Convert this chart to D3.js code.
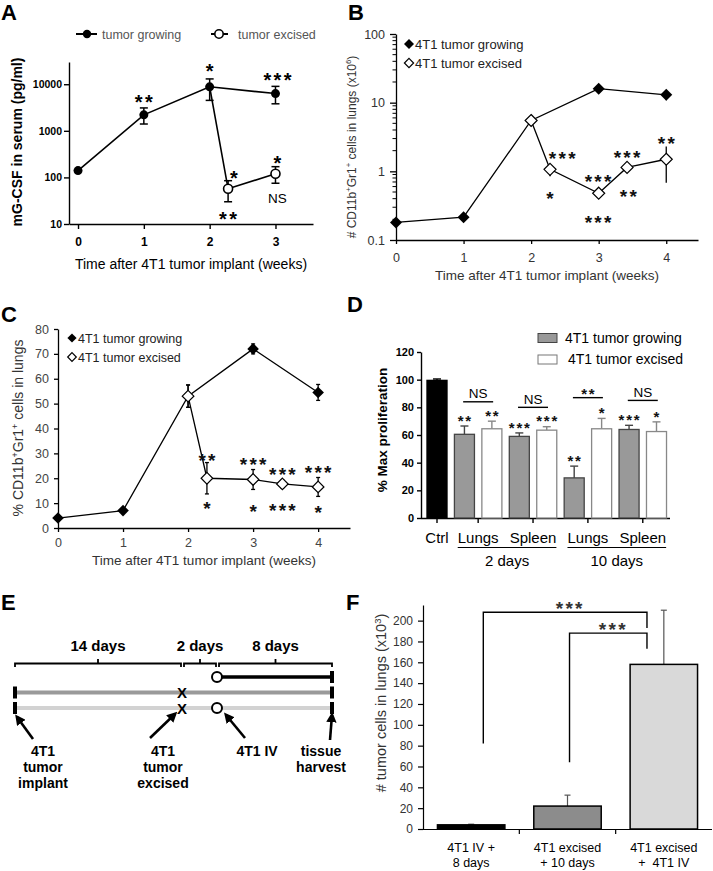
<!DOCTYPE html>
<html>
<head>
<meta charset="utf-8">
<style>
  body { margin: 0; background: #fff; }
  svg { display: block; }
</style>
</head>
<body>
<div id="fig"></div>
<script src="https://cdn.jsdelivr.net/npm/d3@7/dist/d3.min.js"></script>
<script>
// ---------------- data ----------------
// A: serum mG-CSF (pg/ml)
const aXTicks = [0, 1, 2, 3];
const aYTicks = [10, 100, 1000, 10000];
const aGrowWeek = [0, 1, 2, 3];
const aGrowMean = [140, 2200, 8800, 6300];
const aGrowLo = [140, 1400, 4500, 3800];
const aGrowHi = [140, 3100, 13000, 9000];
const aExcWeek = [2, 2.28, 3];
const aExcMean = [8800, 57, 120];
const aExcLo = [8800, 30, 75];
const aExcHi = [8800, 85, 170];
const aNotes = [
  {week: 1, val: 5300, text: "**"},
  {week: 2, val: 24000, text: "*"},
  {week: 3.03, val: 15600, text: "***"},
  {week: 2.37, val: 124, text: "*"},
  {week: 2.28, val: 16.4, text: "**"},
  {week: 3.03, val: 260, text: "*"},
  {week: 3.03, val: 36, text: "NS"}
];

// B: # CD11b+Gr1+ cells in lungs (x10^6)
const bXTicks = [0, 1, 2, 3, 4];
const bYTicks = [0.1, 1, 10, 100];
const bGrowWeek = [0, 1, 2, 3, 4];
const bGrowMean = [0.18, 0.215, 5.5, 16, 13];
const bGrowLo = [0.18, 0.19, 5.5, 15, 10.8];
const bGrowHi = [0.18, 0.24, 5.5, 17, 15];
const bExcWeek = [2, 2.28, 3, 3.42, 4];
const bExcMean = [5.5, 1.07, 0.48, 1.14, 1.5];
const bExcLo = [5.5, 0.85, 0.45, 0.95, 0.68];
const bExcHi = [5.5, 1.25, 0.51, 1.35, 2.3];
const bNotes = [
  {week: 2.46, val: 1.79, text: "***"},
  {week: 2.28, val: 0.47, text: "*"},
  {week: 2.99, val: 0.83, text: "***"},
  {week: 2.99, val: 0.21, text: "***"},
  {week: 3.42, val: 1.85, text: "***"},
  {week: 3.44, val: 0.5, text: "**"},
  {week: 4, val: 2.96, text: "**"}
];

// C: % CD11b+Gr1+ cells in lungs
const cXTicks = [0, 1, 2, 3, 4];
const cYTicks = [0, 10, 20, 30, 40, 50, 60, 70, 80];
const cGrowWeek = [0, 1, 2, 3, 4];
const cGrowMean = [4, 7, 53, 72, 54.5];
const cGrowErr = [0.5, 0.8, 4.5, 2, 3.2];
const cExcWeek = [2, 2.29, 3, 3.45, 4];
const cExcMean = [53, 20, 19.5, 17.7, 16.5];
const cExcErr = [4.5, 6.3, 4, 1.5, 3.8];
const cNotes = [
  {week: 2.29, val: 28.9, text: "**"},
  {week: 2.29, val: 9.6, text: "*"},
  {week: 3, val: 27.3, text: "***"},
  {week: 3, val: 8.4, text: "*"},
  {week: 3.45, val: 23.3, text: "***"},
  {week: 3.45, val: 8.8, text: "***"},
  {week: 4, val: 24.1, text: "***"},
  {week: 4, val: 8.0, text: "*"}
];

// D: % max proliferation
const dIds = ["ctrl", "l2g", "l2e", "s2g", "s2e", "l10g", "l10e", "s10g", "s10e"];
const dKind = ["ctrl", "grow", "exc", "grow", "exc", "grow", "exc", "grow", "exc"];
const dMean = [99.5, 60.5, 64.5, 59, 63.5, 29, 64.5, 64, 62.5];
const dErr = [1, 6, 5.5, 2.5, 2.5, 8.5, 7.5, 3, 7];
const dStars = ["", "**", "**", "***", "***", "**", "*", "***", "*"];
const dYTicks = [0, 20, 40, 60, 80, 100, 120];
const dPairs = [["l2g", "l2e"], ["s2g", "s2e"], ["l10g", "l10e"], ["s10g", "s10e"]];
const dPairNames = ["Lungs", "Spleen", "Lungs", "Spleen"];
const dPairSig = ["NS", "NS", "**", "NS"];
const dPairLine = [84, 80, 87, 85];
const dPeriods = ["2 days", "10 days"];

// E: schedule
const eDays = [0, 14, 16, 24];
const eSpans = ["14 days", "2 days", "8 days"];
const eRows = ["iv", "growing", "excised"];
const eLabels = [["4T1", "tumor", "implant"], ["4T1", "tumor", "excised"], ["4T1 IV"], ["tissue", "harvest"]];

// F: # tumor cells in lungs (x10^3)
const fLine1 = ["4T1 IV +", "4T1 excised", "4T1 excised"];
const fLine2 = ["8 days", "+ 10 days", "+  4T1 IV"];
const fMean = [4, 22, 158];
const fErr = [0.6, 10.5, 52];
const fYTicks = [0, 20, 40, 60, 80, 100, 120, 140, 160, 180, 200];
const fSig = [
  {from: 0, to: 2, top: 208, fromFoot: 82, toFoot: 193, text: "***"},
  {from: 1, to: 2, top: 188, fromFoot: 64, toFoot: 173, text: "***"}
];

// ---------------- helpers ----------------
const FONT = '"Liberation Sans", Arial, Helvetica, sans-serif';
const svg = d3.select("#fig").append("svg")
  .attr("width", 713).attr("height", 871)
  .attr("font-family", FONT);

svg.append("defs").append("marker")
  .attr("id", "arrow").attr("viewBox", "0 0 10 10")
  .attr("refX", 7).attr("refY", 5)
  .attr("markerWidth", 4).attr("markerHeight", 4)
  .attr("orient", "auto")
  .append("path").attr("d", "M0,0L10,5L0,10Z").attr("fill", "#000");

function addText(g, x, y, s, size, opt) {
  opt = opt || {};
  return g.append("text")
    .attr("x", x).attr("y", y)
    .attr("font-size", size)
    .attr("font-weight", opt.bold ? "bold" : "normal")
    .attr("fill", opt.fill || "#000")
    .attr("text-anchor", opt.anchor || "start")
    .style("white-space", "pre")
    .text(s);
}

// asterisks / NS centred on (x, yc)
function addNote(g, x, yc, s, size, fill) {
  if (s === "NS") return addText(g, x, yc + 4.7, s, 13.5, {anchor: "middle", fill: fill});
  const ls = size * 0.12;
  return g.append("text")
    .attr("x", x + ls / 2).attr("y", yc + size * 0.58)
    .attr("font-size", size).attr("letter-spacing", ls)
    .attr("font-weight", "bold")
    .attr("text-anchor", "middle").attr("fill", fill || "#000")
    .text(s);
}

// parts: plain strings, or [string] for a superscript
function richText(t, parts, size) {
  let raised = false;
  parts.forEach(p => {
    const sup = Array.isArray(p);
    const ts = t.append("tspan").text(sup ? p[0] : p);
    if (sup) {
      ts.attr("font-size", size * 0.65);
      if (!raised) ts.attr("dy", -size * 0.38);
      raised = true;
    } else if (raised) {
      ts.attr("dy", size * 0.38);
      raised = false;
    }
  });
  return t;
}

function yTitle(g, bx, cy, parts, size, opt) {
  opt = opt || {};
  const t = g.append("text")
    .attr("transform", `translate(${bx},${cy}) rotate(-90)`)
    .attr("text-anchor", "middle")
    .attr("font-size", size)
    .attr("font-weight", opt.bold ? "bold" : "normal")
    .attr("fill", opt.fill || "#000");
  return richText(t, parts, size);
}

function styleAxis(ax, size, opt) {
  opt = opt || {};
  ax.attr("font-family", FONT).attr("font-size", size);
  ax.selectAll("text").attr("fill", opt.fill || "#000").attr("font-weight", opt.bold ? "bold" : "normal");
  ax.selectAll("path, line").attr("stroke", "#000").attr("stroke-width", opt.sw || 1.2);
}

function errBar(g, x, y1, y2, cap, sw, color) {
  if (Math.abs(y1 - y2) < 0.5) return;
  const c = color || "#000";
  g.append("line").attr("x1", x).attr("x2", x).attr("y1", y1).attr("y2", y2)
    .attr("stroke", c).attr("stroke-width", sw);
  if (cap > 0) {
    [y1, y2].forEach(y => g.append("line")
      .attr("x1", x - cap / 2).attr("x2", x + cap / 2).attr("y1", y).attr("y2", y)
      .attr("stroke", c).attr("stroke-width", sw));
  }
}

function diamond(r) { return `M0,${-r}L${r},0L0,${r}L${-r},0Z`; }

function panelLetter(x, y, s) { addText(svg, x, y, s, 22, {bold: true}); }

// ---------------- panel A ----------------
const gA = svg.append("g");
const xA = d3.scaleLinear().domain([-0.137, 3.57]).range([69, 313]);
const yA = d3.scaleLog().domain([10, 30000]).range([224, 62]);

styleAxis(gA.append("g").attr("transform", `translate(0,${yA(10)})`)
  .call(d3.axisBottom(xA).tickValues(aXTicks).tickFormat(d3.format("d"))
    .tickSize(5).tickPadding(8).tickSizeOuter(0)), 12, {bold: true, sw: 1.4});
styleAxis(gA.append("g").attr("transform", `translate(${xA.range()[0]},0)`)
  .call(d3.axisLeft(yA).tickValues(aYTicks).tickFormat(d3.format("d"))
    .tickSize(5).tickPadding(2).tickSizeOuter(0)), 10.5, {bold: true, sw: 1.4});

const lineA = d3.line().x(d => xA(d[0])).y(d => yA(d[1]));
gA.append("path").attr("d", lineA(d3.zip(aGrowWeek, aGrowMean)))
  .attr("fill", "none").attr("stroke", "#000").attr("stroke-width", 1.6);
gA.append("path").attr("d", lineA(d3.zip(aExcWeek, aExcMean)))
  .attr("fill", "none").attr("stroke", "#000").attr("stroke-width", 1.6);
aGrowWeek.forEach((w, i) => errBar(gA, xA(w), yA(aGrowLo[i]), yA(aGrowHi[i]), 8, 1.5));
aExcWeek.forEach((w, i) => { if (i > 0) errBar(gA, xA(w), yA(aExcLo[i]), yA(aExcHi[i]), 8, 1.5); });
gA.selectAll(".ga").data(d3.zip(aGrowWeek, aGrowMean)).join("circle")
  .attr("cx", d => xA(d[0])).attr("cy", d => yA(d[1])).attr("r", 4.5).attr("fill", "#000");
gA.selectAll(".ea").data(d3.zip(aExcWeek, aExcMean).slice(1)).join("circle")
  .attr("cx", d => xA(d[0])).attr("cy", d => yA(d[1])).attr("r", 4.5)
  .attr("fill", "#fff").attr("stroke", "#000").attr("stroke-width", 1.6);
aNotes.forEach(n => addNote(gA, xA(n.week), yA(n.val), n.text, 20));

// legend A
gA.append("line").attr("x1", 76).attr("x2", 97).attr("y1", 34).attr("y2", 34).attr("stroke", "#000").attr("stroke-width", 2);
gA.append("circle").attr("cx", 87).attr("cy", 34).attr("r", 4.2).attr("fill", "#000");
addText(gA, 102, 38.5, "tumor growing", 12.5, {fill: "#555"});
gA.append("line").attr("x1", 211).attr("x2", 228).attr("y1", 34).attr("y2", 34).attr("stroke", "#000").attr("stroke-width", 2);
gA.append("circle").attr("cx", 219).attr("cy", 34).attr("r", 4.2).attr("fill", "#fff").attr("stroke", "#000").attr("stroke-width", 1.6);
addText(gA, 238, 38.5, "tumor excised", 12.5, {fill: "#555"});

addText(gA, 191, 269, "Time after 4T1 tumor implant (weeks)", 14, {anchor: "middle"});
yTitle(gA, 22, 142, ["mG-CSF in serum (pg/ml)"], 14, {bold: true});
panelLetter(1, 20, "A");

// ---------------- panel B ----------------
const gB = svg.append("g");
const xB = d3.scaleLinear().domain([0, 4.47]).range([396, 698]);
const yB = d3.scaleLog().domain([0.1, 100]).range([240, 34]);

styleAxis(gB.append("g").attr("transform", `translate(0,${yB(0.1)})`)
  .call(d3.axisBottom(xB).tickValues(bXTicks).tickFormat(d3.format("d"))
    .tickSize(4).tickPadding(9).tickSizeOuter(0)), 12.5, {fill: "#333", sw: 1.3});
styleAxis(gB.append("g").attr("transform", `translate(${xB(0)},0)`)
  .call(d3.axisLeft(yB).tickValues(bYTicks).tickFormat(d => String(d))
    .tickSize(6).tickPadding(5).tickSizeOuter(0)), 12.5, {fill: "#333", sw: 1.3});
// minor log ticks
gB.selectAll(".minor").data(yB.ticks().filter(v => Math.abs(Math.log10(v) - Math.round(Math.log10(v))) > 1e-6))
  .join("line")
  .attr("x1", xB(0) - 3.5).attr("x2", xB(0)).attr("y1", d => yB(d)).attr("y2", d => yB(d))
  .attr("stroke", "#000").attr("stroke-width", 1);

const lineB = d3.line().x(d => xB(d[0])).y(d => yB(d[1]));
gB.append("path").attr("d", lineB(d3.zip(bGrowWeek, bGrowMean)))
  .attr("fill", "none").attr("stroke", "#000").attr("stroke-width", 1.3);
gB.append("path").attr("d", lineB(d3.zip(bExcWeek, bExcMean)))
  .attr("fill", "none").attr("stroke", "#000").attr("stroke-width", 1.3);
bGrowWeek.forEach((w, i) => errBar(gB, xB(w), yB(bGrowLo[i]), yB(bGrowHi[i]), 0, 1.3));
bExcWeek.forEach((w, i) => errBar(gB, xB(w), yB(bExcLo[i]), yB(bExcHi[i]), 0, 1.3));
gB.selectAll(".gb").data(d3.zip(bGrowWeek, bGrowMean)).join("path")
  .attr("transform", d => `translate(${xB(d[0])},${yB(d[1])})`)
  .attr("d", diamond(6)).attr("fill", "#000");
gB.selectAll(".eb").data(d3.zip(bExcWeek, bExcMean)).join("path")
  .attr("transform", d => `translate(${xB(d[0])},${yB(d[1])})`)
  .attr("d", diamond(6)).attr("fill", "#fff").attr("stroke", "#000").attr("stroke-width", 1.2);
bNotes.forEach(n => addNote(gB, xB(n.week), yB(n.val), n.text, 19, "#111"));

// legend B
gB.append("path").attr("transform", "translate(409,44)").attr("d", diamond(5)).attr("fill", "#000");
addText(gB, 415, 48.5, "4T1 tumor growing", 13, {fill: "#222"});
gB.append("path").attr("transform", "translate(409,63)").attr("d", diamond(4.6))
  .attr("fill", "#fff").attr("stroke", "#000").attr("stroke-width", 1.2);
addText(gB, 415, 67.5, "4T1 tumor excised", 13, {fill: "#222"});

addText(gB, 547, 280, "Time after 4T1 tumor implant (weeks)", 13.5, {anchor: "middle", fill: "#333"});
yTitle(gB, 356, 147, ["# CD11b", ["+"], "Gr1", ["+"], " cells in lungs (x10", ["6"], ")"], 12, {fill: "#333"});
panelLetter(348, 20, "B");

// ---------------- panel C ----------------
const gC = svg.append("g");
const xC = d3.scaleLinear().domain([0, 4.49]).range([58, 350]);
const yC = d3.scaleLinear().domain([0, 80]).range([528, 329]);

styleAxis(gC.append("g").attr("transform", `translate(0,${yC(0)})`)
  .call(d3.axisBottom(xC).tickValues(cXTicks).tickFormat(d3.format("d"))
    .tickSize(4).tickPadding(6).tickSizeOuter(0)), 12.5, {fill: "#444", sw: 1.3});
styleAxis(gC.append("g").attr("transform", `translate(${xC(0)},0)`)
  .call(d3.axisLeft(yC).tickValues(cYTicks).tickFormat(d3.format("d"))
    .tickSize(4).tickPadding(5).tickSizeOuter(0)), 12.5, {fill: "#444", sw: 1.3});

const lineC = d3.line().x(d => xC(d[0])).y(d => yC(d[1]));
gC.append("path").attr("d", lineC(d3.zip(cGrowWeek, cGrowMean)))
  .attr("fill", "none").attr("stroke", "#000").attr("stroke-width", 1.3);
gC.append("path").attr("d", lineC(d3.zip(cExcWeek, cExcMean)))
  .attr("fill", "none").attr("stroke", "#000").attr("stroke-width", 1.3);
cGrowWeek.forEach((w, i) => errBar(gC, xC(w), yC(cGrowMean[i] - cGrowErr[i]), yC(cGrowMean[i] + cGrowErr[i]), 4, 1.3));
cExcWeek.forEach((w, i) => errBar(gC, xC(w), yC(cExcMean[i] - cExcErr[i]), yC(cExcMean[i] + cExcErr[i]), 4, 1.3));
gC.selectAll(".gc").data(d3.zip(cGrowWeek, cGrowMean)).join("path")
  .attr("transform", d => `translate(${xC(d[0])},${yC(d[1])})`)
  .attr("d", diamond(5.8)).attr("fill", "#000");
gC.selectAll(".ec").data(d3.zip(cExcWeek, cExcMean)).join("path")
  .attr("transform", d => `translate(${xC(d[0])},${yC(d[1])})`)
  .attr("d", diamond(5.8)).attr("fill", "#fff").attr("stroke", "#000").attr("stroke-width", 1.2);
cNotes.forEach(n => addNote(gC, xC(n.week), yC(n.val), n.text, 19, "#111"));

// legend C
gC.append("path").attr("transform", "translate(72,338)").attr("d", diamond(4.6)).attr("fill", "#000");
addText(gC, 78, 342.5, "4T1 tumor growing", 12.5, {fill: "#222"});
gC.append("path").attr("transform", "translate(72,357)").attr("d", diamond(4.3))
  .attr("fill", "#fff").attr("stroke", "#000").attr("stroke-width", 1.2);
addText(gC, 78, 361.5, "4T1 tumor excised", 12.5, {fill: "#222"});

addText(gC, 204, 565, "Time after 4T1 tumor implant (weeks)", 13.5, {anchor: "middle", fill: "#333"});
yTitle(gC, 23, 428, ["% CD11b", ["+"], "Gr1", ["+"], " cells in lungs"], 14, {fill: "#333"});
panelLetter(1, 322, "C");

// ---------------- panel D ----------------
const gD = svg.append("g");
const yD = d3.scaleLinear().domain([0, 120]).range([518, 352]);
const xD = d3.scalePoint().domain(dIds).range([437, 656.5]);
const bwD = xD.step() * 0.73;

styleAxis(gD.append("g").attr("transform", "translate(421,0)")
  .call(d3.axisLeft(yD).tickValues(dYTicks).tickFormat(d3.format("d"))
    .tickSize(4).tickPadding(3).tickSizeOuter(0)), 11, {bold: true, sw: 1.4});
gD.append("line").attr("x1", 421).attr("x2", 670).attr("y1", yD(0) + 0.5).attr("y2", yD(0) + 0.5)
  .attr("stroke", "#000").attr("stroke-width", 1.4);

const pairCenter = p => (xD(p[0]) + xD(p[1])) / 2;
const dTickX = [xD("ctrl")].concat(dPairs.map(pairCenter));
gD.selectAll(".dtick").data(dTickX).join("line")
  .attr("x1", d => d).attr("x2", d => d).attr("y1", yD(0)).attr("y2", yD(0) + 5)
  .attr("stroke", "#000").attr("stroke-width", 1.4);

const dFill = {ctrl: "#000", grow: "#999", exc: "#fff"};
const dStroke = {ctrl: "#000", grow: "#444", exc: "#888"};
dIds.forEach((id, i) => {
  const k = dKind[i];
  errBar(gD, xD(id), yD(dMean[i]), yD(dMean[i] + dErr[i]), 0, 1.4, dStroke[k]);
  gD.append("line").attr("x1", xD(id) - 4).attr("x2", xD(id) + 4)
    .attr("y1", yD(dMean[i] + dErr[i])).attr("y2", yD(dMean[i] + dErr[i]))
    .attr("stroke", dStroke[k]).attr("stroke-width", 1.4);
  gD.append("rect")
    .attr("x", xD(id) - bwD / 2).attr("width", bwD)
    .attr("y", yD(dMean[i])).attr("height", yD(0) - yD(dMean[i]))
    .attr("fill", dFill[k]).attr("stroke", dStroke[k]).attr("stroke-width", 1.3);
  if (dStars[i]) addNote(gD, xD(id), yD(dMean[i] + dErr[i]) - 9, dStars[i], 15, "#111");
});

dPairs.forEach((p, i) => {
  const c = pairCenter(p);
  const y = yD(dPairLine[i]);
  gD.append("line").attr("x1", c - 15).attr("x2", c + 15).attr("y1", y).attr("y2", y)
    .attr("stroke", "#000").attr("stroke-width", 1.4);
  if (dPairSig[i] === "NS") addText(gD, c, y - 3.5, "NS", 13.5, {anchor: "middle"});
  else addNote(gD, c, y - 7, dPairSig[i], 15, "#111");
});

// category labels
addText(gD, xD("ctrl"), 543, "Ctrl", 15, {anchor: "middle"});
const pairLabels = dPairs.map((p, i) => addText(gD, pairCenter(p), 543, dPairNames[i], 15, {anchor: "middle"}));
dPeriods.forEach((s, j) => {
  const b1 = pairLabels[2 * j].node().getBBox();
  const b2 = pairLabels[2 * j + 1].node().getBBox();
  gD.append("line").attr("x1", b1.x).attr("x2", b2.x + b2.width).attr("y1", 547.5).attr("y2", 547.5)
    .attr("stroke", "#000").attr("stroke-width", 1.2);
  addText(gD, (b1.x + b2.x + b2.width) / 2, 566, s, 15, {anchor: "middle"});
});

// legend D
gD.append("rect").attr("x", 538).attr("y", 333.5).attr("width", 19).attr("height", 9)
  .attr("fill", "#999").attr("stroke", "#444").attr("stroke-width", 1);
addText(gD, 565, 343, "4T1 tumor growing", 14);
gD.append("rect").attr("x", 538).attr("y", 355).attr("width", 19).attr("height", 9)
  .attr("fill", "#fff").attr("stroke", "#777").attr("stroke-width", 1);
addText(gD, 568, 364, "4T1 tumor excised", 14);

yTitle(gD, 387, 430, ["% Max proliferation"], 13.5, {bold: true});
panelLetter(347, 312, "D");

// ---------------- panel E ----------------
const gE = svg.append("g");
const tE = d3.scaleLinear().domain(eDays).range([15, 182, 217, 332]);
const rowE = d3.scalePoint().domain(eRows).range([677, 708]);

// braces + span labels
eSpans.forEach((s, i) => {
  const x0 = tE(eDays[i]) + (i > 0 ? 2 : 0);
  const x1 = tE(eDays[i + 1]) - (i < eSpans.length - 1 ? 1 : 0);
  const m = (x0 + x1) / 2;
  gE.append("path").attr("d", `M${x0},667V663.5H${x1}V667M${m},663.5V659`)
    .attr("fill", "none").attr("stroke", "#000").attr("stroke-width", 1.8);
  addText(gE, m, 651, s, 15, {bold: true, anchor: "middle"});
});

// rows
const yIv = rowE("iv"), yG = rowE("growing"), yX = rowE("excised");
gE.append("line").attr("x1", tE(0)).attr("x2", tE(24)).attr("y1", yG).attr("y2", yG)
  .attr("stroke", "#9a9a9a").attr("stroke-width", 4);
gE.append("line").attr("x1", tE(0)).attr("x2", tE(24)).attr("y1", yX).attr("y2", yX)
  .attr("stroke", "#d2d2d2").attr("stroke-width", 4);
gE.append("line").attr("x1", tE(16)).attr("x2", tE(24)).attr("y1", yIv).attr("y2", yIv)
  .attr("stroke", "#000").attr("stroke-width", 3.5);
[[0, yG], [0, yX], [24, yIv], [24, yG], [24, yX]].forEach(d => {
  gE.append("rect").attr("x", tE(d[0]) - 2).attr("y", d[1] - 6).attr("width", 4).attr("height", 12).attr("fill", "#000");
});
[yG, yX].forEach(y => addText(gE, tE(14), y + 5.5, "X", 15, {bold: true, anchor: "middle"}));
[yIv, yX].forEach(y => gE.append("circle").attr("cx", tE(16)).attr("cy", y).attr("r", 5)
  .attr("fill", "#fff").attr("stroke", "#000").attr("stroke-width", 2));

// event labels with arrows
const eLabelX = [43, 163, 257, 321];
const eArrows = [[33, 739, 17, 717], [150, 738, 175, 714], [245, 738, 226, 715], [330, 740, 332, 715]];
eLabels.forEach((lines, i) => {
  lines.forEach((s, j) => addText(gE, eLabelX[i], 756 + j * 16, s, 14, {bold: true, anchor: "middle"}));
  const a = eArrows[i];
  gE.append("line").attr("x1", a[0]).attr("y1", a[1]).attr("x2", a[2]).attr("y2", a[3])
    .attr("stroke", "#000").attr("stroke-width", 2.6).attr("marker-end", "url(#arrow)");
});
panelLetter(1, 610, "E");

// ---------------- panel F ----------------
const gF = svg.append("g");
const xF = d3.scaleBand().domain(d3.range(fMean.length)).range([423, 712]).paddingInner(0.3).paddingOuter(0.15);
const yF = d3.scaleLinear().domain([0, 215]).range([829, 605]);

styleAxis(gF.append("g").attr("transform", `translate(${xF.range()[0]},0)`)
  .call(d3.axisLeft(yF).tickValues(fYTicks).tickFormat(d3.format("d"))
    .tickSize(5).tickPadding(5).tickSizeOuter(0)), 12, {fill: "#333", sw: 1.2});
gF.append("line").attr("x1", 423).attr("x2", 712).attr("y1", yF(0) + 0.5).attr("y2", yF(0) + 0.5)
  .attr("stroke", "#000").attr("stroke-width", 1.2);
gF.selectAll(".ftick").data(d3.range(1, fMean.length)).join("line")
  .attr("x1", d => xF(d) - xF.step() * xF.paddingInner() / 2)
  .attr("x2", d => xF(d) - xF.step() * xF.paddingInner() / 2)
  .attr("y1", yF(0)).attr("y2", yF(0) + 5)
  .attr("stroke", "#000").attr("stroke-width", 1.2);

const fFill = ["#000", "#8c8c8c", "#d9d9d9"];
fMean.forEach((v, i) => {
  const cx = xF(i) + xF.bandwidth() / 2;
  errBar(gF, cx, yF(v), yF(v + fErr[i]), 0, 1.2, "#555");
  gF.append("line").attr("x1", cx - 3).attr("x2", cx + 3).attr("y1", yF(v + fErr[i])).attr("y2", yF(v + fErr[i]))
    .attr("stroke", "#555").attr("stroke-width", 1.2);
  gF.append("rect").attr("x", xF(i)).attr("width", xF.bandwidth())
    .attr("y", yF(v)).attr("height", yF(0) - yF(v))
    .attr("fill", fFill[i]).attr("stroke", "#000").attr("stroke-width", 1.5);
  addText(gF, cx, 852, fLine1[i], 12.5, {anchor: "middle"});
  addText(gF, cx, 867, fLine2[i], 12.5, {anchor: "middle"});
});

fSig.forEach((s, k) => {
  const bw = xF.bandwidth();
  const xl = xF(s.from) + bw / 2 + (k === 0 ? 0.18 : 0.03) * bw;
  const xr = xF(s.to) + bw / 2 - 0.25 * bw;
  gF.append("path")
    .attr("d", `M${xl},${yF(s.fromFoot)}V${yF(s.top)}H${xr}V${yF(s.toFoot)}`)
    .attr("fill", "none").attr("stroke", "#000").attr("stroke-width", 1.4);
  addNote(gF, (xl + xr) / 2 + 4, yF(s.top) - 8.5, s.text, 19, "#333");
});

yTitle(gF, 386, 703, ["# tumor cells in lungs (x10", ["3"], ")"], 14.5, {fill: "#333"});
panelLetter(346, 610, "F");
</script>
</body>
</html>
